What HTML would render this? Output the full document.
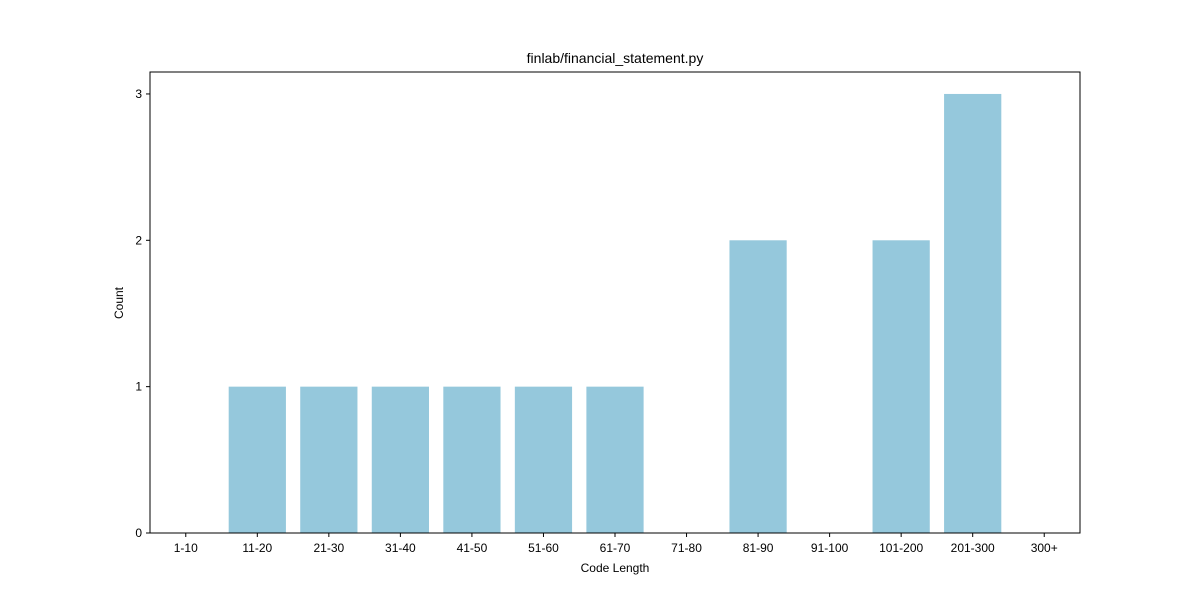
<!DOCTYPE html>
<html><head><meta charset="utf-8"><style>
body{margin:0;background:#fff;font-family:"Liberation Sans","DejaVu Sans",sans-serif;}
</style></head><body>
<svg id="chart" width="1200" height="600" xmlns="http://www.w3.org/2000/svg">
<rect width="1200" height="600" fill="#fff"/>
<text x="615" y="63" font-size="14" text-anchor="middle">finlab/financial_statement.py</text>
<g id="bars"></g>
<g id="xticks"></g>
<g id="yticks"></g>
<rect x="150" y="72" width="930" height="461" fill="none" stroke="#000" stroke-width="1"/>
<text x="615" y="572" font-size="12" text-anchor="middle">Code Length</text>
<text transform="translate(123,303) rotate(-90)" font-size="12" text-anchor="middle">Count</text>
</svg>
<script>
const categories=["1-10","11-20","21-30","31-40","41-50","51-60","61-70","71-80","81-90","91-100","101-200","201-300","300+"];
const counts=[0,1,1,1,1,1,1,0,2,0,2,3,0];
const yTicks=[0,1,2,3];
const L=150,R=1080,T=72,B=533;
const yMax=Math.max(...counts)*1.05;
const step=(R-L)/categories.length;
const xc=i=>L+step*(i+0.5);
const y=v=>B-(v/yMax)*(B-T);
const ns="http://www.w3.org/2000/svg";
const bars=document.getElementById('bars'),xt=document.getElementById('xticks'),yt=document.getElementById('yticks');
categories.forEach((c,i)=>{
  const r=document.createElementNS(ns,'rect');
  const bw=step*0.8;
  r.setAttribute('x',xc(i)-bw/2);r.setAttribute('width',bw);
  r.setAttribute('y',y(counts[i]));r.setAttribute('height',B-y(counts[i]));
  r.setAttribute('fill','#95c8dc');
  
  
  bars.appendChild(r);
  const l=document.createElementNS(ns,'line');
  l.setAttribute('x1',xc(i));l.setAttribute('x2',xc(i));l.setAttribute('y1',B);l.setAttribute('y2',B+4);l.setAttribute('stroke','#000');
  
  
  xt.appendChild(l);
  const t=document.createElementNS(ns,'text');
  t.setAttribute('x',xc(i));t.setAttribute('y',B+19);t.setAttribute('font-size','12');t.setAttribute('text-anchor','middle');
  t.textContent=c;
  
  
  xt.appendChild(t);
});
yTicks.forEach(v=>{
  const l=document.createElementNS(ns,'line');
  l.setAttribute('x1',L-4);l.setAttribute('x2',L);l.setAttribute('y1',y(v));l.setAttribute('y2',y(v));l.setAttribute('stroke','#000');
  
  
  yt.appendChild(l);
  const t=document.createElementNS(ns,'text');
  t.setAttribute('x',L-8);t.setAttribute('y',y(v)+4);t.setAttribute('font-size','12');t.setAttribute('text-anchor','end');
  t.textContent=v;
  
  
  yt.appendChild(t);
});
</script>
</body></html>
